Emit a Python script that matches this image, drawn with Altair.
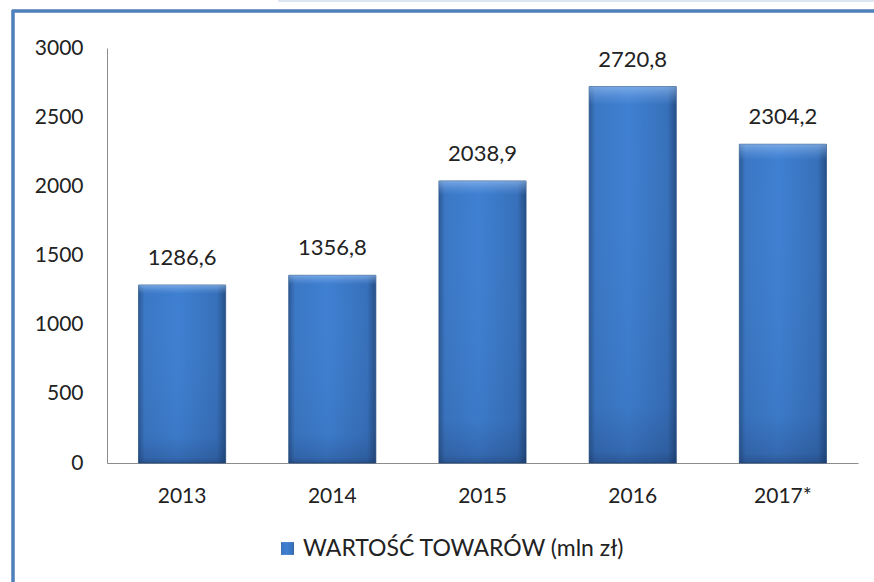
import altair as alt
import pandas as pd

years = ["2013", "2014", "2015", "2016", "2017*"]
values = [1286.6, 1356.8, 2038.9, 2720.8, 2304.2]
series_name = "WARTOŚĆ TOWARÓW (mln zł)"

df = pd.DataFrame({
    "year": years,
    "value": values,
    "label": [f"{v:.1f}".replace(".", ",") for v in values],
    "series": [series_name] * len(years),
})

FONT = "Lato"

xenc = alt.X("year:N", sort=years, title=None,
             scale=alt.Scale(paddingInner=0.42, paddingOuter=0.21),
             axis=alt.Axis(labelAngle=0, ticks=False, domainColor="#8c8c8c",
                           labelFontSize=21, labelColor="#222222", labelFont=FONT,
                           labelPadding=22))
yenc = alt.Y("value:Q", title=None,
             scale=alt.Scale(domain=[0, 3000], nice=False),
             axis=alt.Axis(values=[0, 500, 1000, 1500, 2000, 2500, 3000], grid=False,
                           format="d", ticks=False, domainColor="#8c8c8c", labelFontSize=21,
                           labelColor="#222222", labelFont=FONT, labelPadding=24))

hgrad = alt.LinearGradient(
    gradient="linear", x1=0, x2=1, y1=0, y2=0,
    stops=[alt.GradientStop(offset=0, color="#2c5a96"),
           alt.GradientStop(offset=0.07, color="#3b77c4"),
           alt.GradientStop(offset=0.45, color="#3f80d2"),
           alt.GradientStop(offset=0.9, color="#3770ba"),
           alt.GradientStop(offset=1, color="#264f86")])

vgrad = alt.LinearGradient(
    gradient="linear", x1=0, x2=0, y1=0, y2=1,
    stops=[alt.GradientStop(offset=0, color="rgba(170,205,250,0.55)"),
           alt.GradientStop(offset=0.05, color="rgba(120,170,235,0.0)"),
           alt.GradientStop(offset=0.85, color="rgba(20,40,80,0.08)"),
           alt.GradientStop(offset=0.97, color="rgba(20,40,80,0.25)"),
           alt.GradientStop(offset=1, color="rgba(20,40,80,0.45)")])

bars = alt.Chart(df).mark_bar(color=hgrad, stroke="#2a5488", strokeWidth=0.8).encode(
    x=xenc, y=yenc,
    opacity=alt.Opacity("series:N", scale=alt.Scale(range=[1]),
                        legend=alt.Legend(title=None, orient="none", legendX=169, legendY=489,
                                          symbolType="square", symbolSize=165,
                                          symbolFillColor="#3a74c0", symbolStrokeColor="#2a5488",
                                          labelFontSize=23, labelFont=FONT, labelOffset=4,
                                          labelColor="#222222", labelLimit=600)),
)

shade = alt.Chart(df).mark_bar(color=vgrad).encode(x=xenc, y=yenc)

labels = alt.Chart(df).mark_text(baseline="alphabetic", dy=-20, fontSize=22,
                                 font=FONT, color="#222222").encode(
    x=alt.X("year:N", sort=years), y="value:Q", text="label:N")

frame_top = alt.Chart(df).mark_rule(color="#4f81bd", strokeWidth=2.5, clip=False).encode(
    x=alt.value(-95), x2=alt.value(800), y=alt.value(-37))
frame_left = alt.Chart(df).mark_rule(color="#4f81bd", strokeWidth=2.5, clip=False).encode(
    x=alt.value(-94), y=alt.value(-38), y2=alt.value(560))
frame_top2 = alt.Chart(df).mark_rule(color="#dce6f2", strokeWidth=2, clip=False).encode(
    x=alt.value(171), x2=alt.value(800), y=alt.value(-47))

chart = alt.layer(frame_top2, frame_top, frame_left, bars, shade, labels).properties(
    width=751, height=415,
    background="white",
    padding={"left": 107, "top": 48, "right": 16, "bottom": 119},
    autosize=alt.AutoSizeParams(type="none"),
).configure_view(strokeWidth=0)

chart.save("out.html", embed_options={"renderer": "svg", "actions": False})
